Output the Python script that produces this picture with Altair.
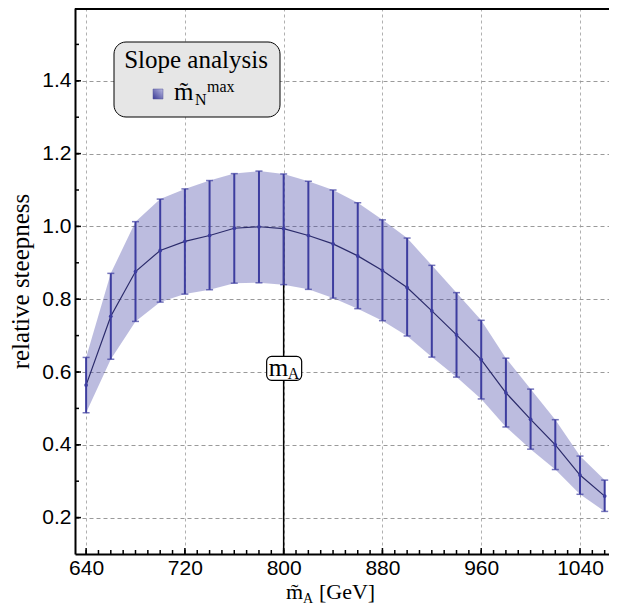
import altair as alt
import pandas as pd

# ---- data ----
mass = [640, 660, 680, 700, 720, 740, 760, 780, 800, 820, 840,
        860, 880, 900, 920, 940, 960, 980, 1000, 1020, 1040, 1060]
center = [0.564, 0.753, 0.876, 0.934, 0.959, 0.975, 0.995, 0.999, 0.994, 0.975, 0.952,
          0.919, 0.879, 0.832, 0.768, 0.702, 0.634, 0.543, 0.470, 0.400, 0.317, 0.259]
upper = [0.640, 0.871, 1.013, 1.075, 1.103, 1.126, 1.145, 1.152, 1.144, 1.124, 1.100,
         1.065, 1.018, 0.968, 0.893, 0.818, 0.742, 0.638, 0.553, 0.469, 0.369, 0.303]
lower = [0.488, 0.635, 0.739, 0.792, 0.814, 0.826, 0.844, 0.845, 0.840, 0.827, 0.803,
         0.774, 0.741, 0.699, 0.641, 0.586, 0.526, 0.449, 0.388, 0.332, 0.264, 0.217]

x_major = [640, 720, 800, 880, 960, 1040]
x_minor = [640, 650, 660, 670, 680, 690, 700, 710, 720, 730, 740, 750, 760, 770, 780, 790,
           800, 810, 820, 830, 840, 850, 860, 870, 880, 890, 900, 910, 920, 930, 940, 950,
           960, 970, 980, 990, 1000, 1010, 1020, 1030, 1040, 1050, 1060]
y_major = [0.2, 0.4, 0.6, 0.8, 1.0, 1.2, 1.4]
y_minor = [0.2, 0.3, 0.4, 0.5, 0.6, 0.7, 0.8, 0.9, 1.0, 1.1, 1.2, 1.3, 1.4, 1.5]

m_A = [800]
m_A_top = [0.994]
m_A_label_y = [0.61]

x_domain = [631, 1063.5]
y_domain = [0.1, 1.6]

W, H = 534, 546
SERIF = "Liberation Serif"
SANS = "Liberation Sans"
BAND = "#3c3ca0"
BAR = "#3d3d9f"
LINE = "#2b2b6b"

df = pd.DataFrame({"x": mass, "c": center, "u": upper, "l": lower})

XSCALE = alt.Scale(domain=x_domain, nice=False, zero=False)
YSCALE = alt.Scale(domain=y_domain, nice=False, zero=False)
XAXIS = alt.Axis(values=x_major, format="d", labelFont=SANS, labelFontSize=21, orient="bottom",
                 labelPadding=3, ticks=False, domainWidth=2,
                 domainColor="black", labelColor="black",
                 grid=True, gridDash=[3, 3], gridColor="#b0b0b0",
                 title=None, labelFlush=False)
YAXIS = alt.Axis(values=y_major, format=".1f", labelFont=SANS, orient="left",
                 labelFontSize=21, labelPadding=4, ticks=False,
                 domainWidth=2, domainColor="black", labelColor="black",
                 grid=True, gridDash=[4, 3], gridColor="#9a9a9a",
                 title="relative steepness", titleFont=SERIF,
                 titleFontSize=25, titleFontWeight="normal",
                 titleColor="black", titlePadding=8, labelFlush=False)


def X(field="x"):
    return alt.X(f"{field}:Q", scale=XSCALE, axis=XAXIS)


def Y(field):
    return alt.Y(f"{field}:Q", scale=YSCALE, axis=YAXIS)


base = alt.Chart(df)

band = base.mark_area(color=BAND, opacity=0.34).encode(x=X(), y=Y("l"), y2="u:Q")
err = base.mark_rule(color=BAR, strokeWidth=2).encode(x=X(), y=Y("l"), y2="u:Q")
cap_u = base.mark_tick(color=BAR, orient="horizontal", size=7, thickness=1.5).encode(x=X(), y=Y("u"))
cap_l = base.mark_tick(color=BAR, orient="horizontal", size=7, thickness=1.5).encode(x=X(), y=Y("l"))
line = base.mark_line(color=LINE, strokeWidth=1.2).encode(x=X(), y=Y("c"))
pts = base.mark_circle(color=BAR, size=14, opacity=1).encode(x=X(), y=Y("c"))

mdf = pd.DataFrame({"x": m_A, "top": m_A_top, "ly": m_A_label_y})
vline = alt.Chart(mdf).mark_rule(color="black", strokeWidth=1.5).encode(
    x=X(), y=Y("top"), y2=alt.value(H))
mbox = alt.Chart(mdf).mark_rect(fill="white", stroke="black", strokeWidth=1.2,
                                cornerRadius=5, xOffset=-17, x2Offset=18,
                                yOffset=-12, y2Offset=12).encode(
    x=X(), x2="x:Q", y=Y("ly"), y2="ly:Q")
m_txt = alt.Chart(mdf.assign(t="m")).mark_text(font=SERIF, fontSize=25, align="left",
                                               baseline="alphabetic", dx=-15, dy=8,
                                               color="black").encode(
    x=X(), y=Y("ly"), text="t:N")
a_txt = alt.Chart(mdf.assign(t="A")).mark_text(font=SERIF, fontSize=16, align="left",
                                               baseline="alphabetic", dx=4, dy=11,
                                               color="black").encode(
    x=X(), y=Y("ly"), text="t:N")

# ---- frame ticks (inward) ----
xt_minor = alt.Chart(pd.DataFrame({"x": x_minor})).mark_rule(color="black", strokeWidth=1.5).encode(
    x=X(), y=alt.value(H), y2=alt.value(H - 4))
xt_major = alt.Chart(pd.DataFrame({"x": x_major})).mark_rule(color="black", strokeWidth=1.5).encode(
    x=X(), y=alt.value(H), y2=alt.value(H - 6))
yt_minor = alt.Chart(pd.DataFrame({"y": y_minor})).mark_rule(color="black", strokeWidth=1.5).encode(
    y=Y("y"), x=alt.value(0), x2=alt.value(4))
yt_major = alt.Chart(pd.DataFrame({"y": y_major})).mark_rule(color="black", strokeWidth=1.5).encode(
    y=Y("y"), x=alt.value(0), x2=alt.value(6))
one = pd.DataFrame({"a": [0]})
top_border = alt.Chart(one).mark_rule(color="black", strokeWidth=2).encode(
    x=alt.value(0), x2=alt.value(W), y=alt.value(1))

# ---- legend ----
leg_box = alt.Chart(one).mark_rect(fill="#e6e6e6", stroke="black", strokeWidth=1,
                                   cornerRadius=12).encode(
    x=alt.value(39), x2=alt.value(205), y=alt.value(34), y2=alt.value(109))
grad = alt.LinearGradient(gradient="linear", x1=0, y1=1, x2=1, y2=0,
                          stops=[alt.GradientStop(color="#3a3a96", offset=0),
                                 alt.GradientStop(color="#b9b9e0", offset=1)])
leg_sw = alt.Chart(one).mark_rect(color=grad, stroke="#555599", strokeWidth=0.5).encode(
    x=alt.value(78), x2=alt.value(88), y=alt.value(81), y2=alt.value(91))


def txt(s, x, y, size, align="left"):
    return alt.Chart(pd.DataFrame({"t": [s]})).mark_text(
        font=SERIF, fontSize=size, align=align, baseline="alphabetic", color="black"
    ).encode(x=alt.value(x), y=alt.value(y), text="t:N")


leg_title = txt("Slope analysis", 121, 60, 25, "center")
leg_m = txt("m\u0303", 99, 92, 25)
leg_N = txt("N", 120, 97, 16)
leg_max = txt("max", 132, 84, 16)

# ---- x axis title with subscript ----
xt_m = txt("m\u0303", 211, 591, 22)
xt_A = txt("A", 228, 595, 14)
xt_rest = txt("[GeV]", 244, 591, 22)

chart = alt.layer(
    band, vline, line, err, cap_u, cap_l, pts, mbox, m_txt, a_txt,
    xt_minor, xt_major, yt_minor, yt_major, top_border,
    leg_box, leg_sw, leg_title, leg_m, leg_N, leg_max,
    xt_m, xt_A, xt_rest,
).properties(
    width=W, height=H,
    background="white",
    autosize=alt.AutoSizeParams(type="none"),
    padding={"left": 67, "top": 0, "right": 0, "bottom": 50},
).configure_view(stroke=None, strokeWidth=0)

chart.save("out.html", embed_options={"renderer": "svg", "actions": False})
